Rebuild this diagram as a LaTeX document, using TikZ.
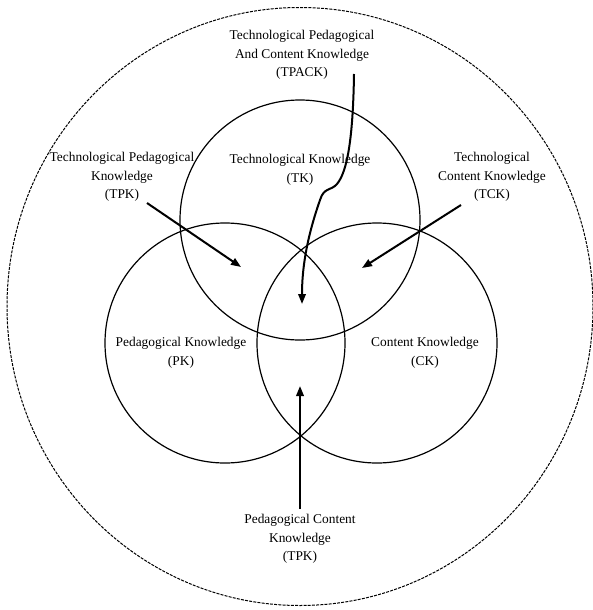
\documentclass[tikz,border=0pt]{standalone}
\usepackage{fontspec}
\setmainfont{Liberation Serif}
\usetikzlibrary{arrows.meta,shapes.geometric}
\begin{document}
\begin{tikzpicture}[x=1pt,y=-1pt,
  venn/.style={draw,circle,line width=1.2pt,minimum size=240pt,inner sep=0pt},
  outerbox/.style={draw,ellipse,line width=1pt,dash pattern=on 3pt off 1.2pt,minimum width=586pt,minimum height=598pt,inner sep=0pt},
  lbl/.style={align=center,inner sep=0pt,font=\fontsize{13.4}{18.5}\selectfont},
  arr/.style={line width=2pt,-{Triangle[length=10pt,width=7.5pt]}}]
\useasboundingbox (0,0) rectangle (593,610);
\node[outerbox] (outer) at (300,306.5) {};
\node[venn] (tk) at (300,220) {};
\node[venn] (pk) at (225,343) {};
\node[venn] (ck) at (377,343) {};

\node[lbl] (tpack) at (302,55) {Technological Pedagogical\\And Content Knowledge\\(TPACK)};
\node[lbl] (tkl) at (300,170) {Technological Knowledge\\(TK)};
\node[lbl] (tpk) at (122,177) {Technological Pedagogical\\Knowledge\\(TPK)};
\node[lbl] (tck) at (492,177) {Technological\\Content Knowledge\\(TCK)};
\node[lbl] (pkl) at (181,353) {Pedagogical Knowledge\\(PK)};
\node[lbl] (ckl) at (425,353) {Content Knowledge\\(CK)};
\node[lbl] (pck) at (300,539) {Pedagogical Content\\Knowledge\\(TPK)};

\coordinate (tpkS) at (147,203);
\coordinate (tpkE) at (241,267);
\coordinate (tckS) at (461,205);
\coordinate (tckE) at (362,268);
\coordinate (pckS) at (300,509);
\coordinate (pckE) at (300,386);
\coordinate (tpackS) at (354,74);
\coordinate (tpackE) at (302,304);

\draw[arr] (tpkS) -- (tpkE);
\draw[arr] (tckS) -- (tckE);
\draw[arr] (pckS) -- (pckE);
\draw[line width=2pt,-{Triangle[length=10pt,width=7.5pt]}] (tpackS) .. controls (353,140) and (347,172) .. (337,184)
  .. controls (331,191) and (324,187) .. (320,200)
  .. controls (306,240) and (302,270) .. (tpackE);
\end{tikzpicture}
\end{document}
